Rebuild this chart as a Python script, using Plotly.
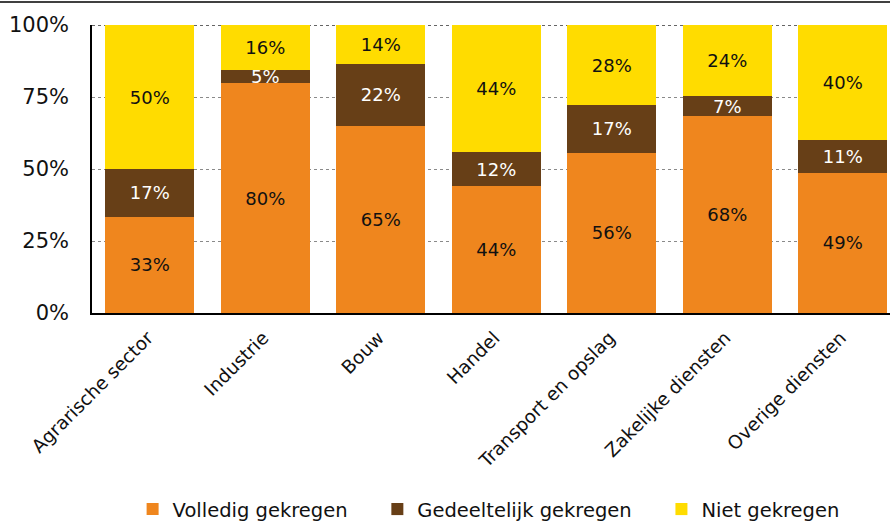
import plotly.graph_objects as go

categories = ["Agrarische sector", "Industrie", "Bouw", "Handel",
              "Transport en opslag", "Zakelijke diensten", "Overige diensten"]

volledig = [33.4, 79.8, 64.9, 44.1, 55.6, 68.4, 48.7]
gedeeltelijk = [16.6, 4.5, 21.6, 11.8, 16.6, 6.9, 11.4]
niet = [49.9, 15.6, 13.4, 44.0, 27.7, 24.6, 39.8]

volledig_labels = ["33%", "80%", "65%", "44%", "56%", "68%", "49%"]
gedeeltelijk_labels = ["17%", "5%", "22%", "12%", "17%", "7%", "11%"]
niet_labels = ["50%", "16%", "14%", "44%", "28%", "24%", "40%"]

series_names = ["Volledig gekregen", "Gedeeltelijk gekregen", "Niet gekregen"]

y_ticks = [0, 25, 50, 75, 100]
y_ticktext = ["0%", "25%", "50%", "75%", "100%"]

FONT = "DejaVu Sans"
NBSP = "\u00a0"
series = [
    (series_names[0] + NBSP * 4, volledig, volledig_labels, "#EF861E", "#111111"),
    (series_names[1] + NBSP * 4, gedeeltelijk, gedeeltelijk_labels, "#673F17", "#FFFFFF"),
    (series_names[2], niet, niet_labels, "#FFDC00", "#111111"),
]

fig = go.Figure()
for name, vals, labels, color, tcolor in series:
    fig.add_trace(go.Bar(
        name=name, x=categories, y=vals, text=labels,
        textposition="inside", insidetextanchor="middle",
        constraintext="none", cliponaxis=False,
        textfont=dict(family=FONT, size=18, color=tcolor),
        marker=dict(color=color, line=dict(width=0)),
        hoverinfo="skip",
    ))

W, H = 890, 522
L, T, B = 92, 25, 209
plot_w = W - L
plot_h = H - T - B
cat_w = 115.5

fig.update_layout(
    width=W, height=H, barmode="stack", bargap=0.23,
    margin=dict(l=L, r=0, t=T, b=B, autoexpand=False),
    paper_bgcolor="white", plot_bgcolor="white",
    font=dict(family=FONT, color="#111111"),
    showlegend=True,
    legend=dict(orientation="h", x=0.497, xanchor="center", y=-0.682, yanchor="middle",
                font=dict(family=FONT, size=19.5, color="#111111"), traceorder="normal"),
)
fig.update_xaxes(
    range=[-0.5, -0.5 + plot_w / cat_w],
    showline=True, linecolor="#000000", linewidth=1.5,
    ticks="", tickangle=-45, ticklabelshift=-2, ticklabelstandoff=5,
    tickfont=dict(family=FONT, size=18.5, color="#111111"),
    showgrid=False, zeroline=False,
)
fig.update_yaxes(
    range=[0, 100], tickvals=y_ticks, ticktext=y_ticktext,
    showline=True, linecolor="#000000", linewidth=1.5,
    ticks="", ticklabelstandoff=17,
    tickfont=dict(family=FONT, size=21, color="#111111"),
    showgrid=True, gridcolor="#8a8a8a", griddash="dot", gridwidth=1,
    zeroline=False,
)
# top border of the chart frame
fig.add_shape(type="line", xref="paper", yref="paper",
              x0=-L / plot_w, x1=1, y0=(plot_h + T - 2) / plot_h, y1=(plot_h + T - 2) / plot_h,
              line=dict(color="#000000", width=1.5))
# darker 100% line
fig.add_shape(type="line", xref="paper", yref="y", x0=0, x1=1, y0=100, y1=100,
              line=dict(color="#333333", width=1.5, dash="dot"), layer="below")

fig.write_html("out.html", config={"displayModeBar": False},
               post_script="document.body.style.margin='0';document.body.style.overflow='hidden';")
